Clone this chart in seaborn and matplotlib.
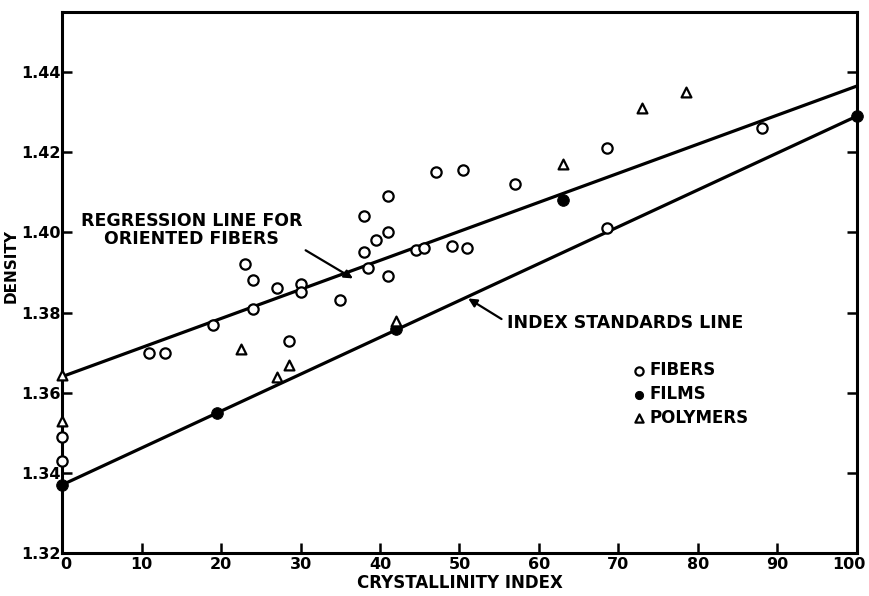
import pandas as pd
import matplotlib.pyplot as plt
import matplotlib.transforms as mtransforms
import seaborn as sns

# Data
fibers_x = [0, 0, 11, 13, 19, 23, 24, 24, 27, 28.5, 30, 30, 35, 38, 38, 38.5,
            39.5, 41, 41, 41, 44.5, 45.5, 47, 49, 50.5, 51, 57, 68.5, 68.5, 88]
fibers_y = [1.349, 1.343, 1.370, 1.370, 1.377, 1.392, 1.388, 1.381, 1.386, 1.373,
            1.387, 1.385, 1.383, 1.404, 1.395, 1.391, 1.398, 1.409, 1.400, 1.389,
            1.3955, 1.396, 1.415, 1.3965, 1.4155, 1.396, 1.412, 1.421, 1.401, 1.426]

films_x = [0, 19.5, 42, 63, 100]
films_y = [1.337, 1.355, 1.376, 1.408, 1.429]

polymers_x = [0, 0, 22.5, 27, 28.5, 42, 63, 73, 78.5]
polymers_y = [1.3645, 1.353, 1.371, 1.364, 1.367, 1.378, 1.417, 1.431, 1.435]

regression_x = [0, 100]
regression_y = [1.364, 1.4365]
standards_x = [0, 100]
standards_y = [1.337, 1.429]

x_ticks = [0, 10, 20, 30, 40, 50, 60, 70, 80, 90, 100]
y_ticks = [1.32, 1.34, 1.36, 1.38, 1.40, 1.42, 1.44]
y_tick_labels = ["1.32", "1.34", "1.36", "1.38", "1.40", "1.42", "1.44"]

sns.set_style("ticks")
plt.rcParams['font.family'] = ['DejaVu Sans']
plt.rcParams['font.weight'] = 'bold'
for k in ['text.color', 'axes.labelcolor', 'xtick.color', 'ytick.color', 'axes.edgecolor']:
    plt.rcParams[k] = 'black'

fig = plt.figure(figsize=(8.7, 5.96), dpi=100)
ax = fig.add_axes([0.0713, 0.0721, 0.9137, 0.908])

lines = pd.DataFrame({
    'x': regression_x + standards_x,
    'y': regression_y + standards_y,
    'line': ['reg'] * 2 + ['std'] * 2,
})
sns.lineplot(data=lines, x='x', y='y', units='line', estimator=None,
             color='black', linewidth=2.3, ax=ax, zorder=2)

df_fib = pd.DataFrame({'x': fibers_x, 'y': fibers_y})
df_film = pd.DataFrame({'x': films_x, 'y': films_y})
df_poly = pd.DataFrame({'x': polymers_x, 'y': polymers_y})

sns.scatterplot(data=df_fib, x='x', y='y', marker='o', s=55, facecolor='white',
                edgecolor='black', linewidth=1.6, ax=ax, zorder=3, label='FIBERS',
                clip_on=False)
sns.scatterplot(data=df_film, x='x', y='y', marker='o', s=70, color='black',
                edgecolor='black', ax=ax, zorder=3, label='FILMS', clip_on=False)
sns.scatterplot(data=df_poly, x='x', y='y', marker='^', s=50, facecolor='white',
                edgecolor='black', linewidth=1.6, ax=ax, zorder=3, label='POLYMERS',
                clip_on=False)

ax.set_xlim(0, 100)
ax.set_ylim(1.32, 1.455)
ax.set_xticks(x_ticks)
ax.set_yticks(y_ticks)
ax.set_yticklabels(y_tick_labels)
ax.tick_params(axis='both', direction='in', length=7, width=1.8, labelsize=11.5, pad=3)
ax.tick_params(axis='y', right=True, pad=1)
for s in ax.spines.values():
    s.set_visible(True)
    s.set_linewidth(2.2)

# keep the "100" label inside the picture, and "0" clear of "1.32"
xlabels = ax.get_xticklabels()
xlabels[-1].set_transform(xlabels[-1].get_transform()
                          + mtransforms.ScaledTranslation(-6 / 72, 0, fig.dpi_scale_trans))
xlabels[0].set_transform(xlabels[0].get_transform()
                         + mtransforms.ScaledTranslation(3 / 72, 0, fig.dpi_scale_trans))

ax.set_xlabel('CRYSTALLINITY INDEX', fontsize=12, fontweight='bold', labelpad=1)
ax.set_ylabel('DENSITY', fontsize=11, fontweight='bold', labelpad=0)
ax.yaxis.set_label_coords(-0.054, 0.53)

ax.annotate('REGRESSION LINE FOR\nORIENTED FIBERS', xy=(36.6, 1.3885), xytext=(16.3, 1.4005),
            ha='center', va='center', fontsize=12.5, fontweight='bold', linespacing=1.0,
            arrowprops=dict(arrowstyle='-|>', color='black', lw=1.6,
                            shrinkA=0, shrinkB=0, relpos=(1.0, 0.0)))
ax.annotate('INDEX STANDARDS LINE', xy=(51.1, 1.3835), xytext=(56.0, 1.3775),
            ha='left', va='center', fontsize=12.5, fontweight='bold',
            arrowprops=dict(arrowstyle='-|>', color='black', lw=1.6,
                            shrinkA=2, shrinkB=0, relpos=(0.0, 0.5)))

leg = ax.legend(loc='upper left', bbox_to_anchor=(0.705, 0.37), frameon=False,
                handletextpad=0.1, labelspacing=0.35, borderpad=0, handlelength=1.0,
                prop={'weight': 'bold', 'size': 12})
for h in leg.legend_handles:
    h.set_sizes([35])

plt.savefig('out.png', dpi=100)
plt.close()
